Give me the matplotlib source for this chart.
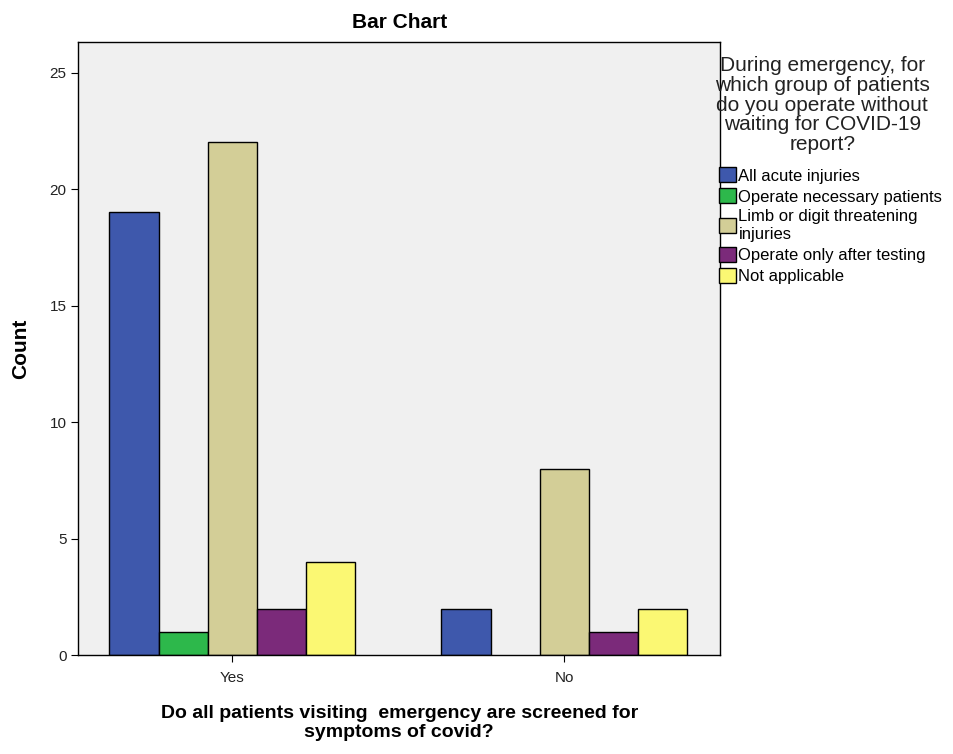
import numpy as np
import matplotlib.pyplot as plt
from matplotlib.patches import Patch

plt.rcParams['font.family'] = ['Liberation Sans', 'DejaVu Sans']

groups = ["Yes", "No"]
series = ["All acute injuries", "Operate necessary patients",
          "Limb or digit threatening\ninjuries", "Operate only after testing",
          "Not applicable"]
counts = {
    "All acute injuries": [19, 2],
    "Operate necessary patients": [1, 0],
    "Limb or digit threatening\ninjuries": [22, 8],
    "Operate only after testing": [2, 1],
    "Not applicable": [4, 2],
}
colors = ["#3e58ac", "#2db84b", "#d3ce97", "#7b2a7a", "#fbf873"]

fig = plt.figure(figsize=(9.54, 7.54), dpi=100)
ax = fig.add_axes([0.082, 0.131, 0.673, 0.813])
ax.set_facecolor("#f0f0f0")

x = np.arange(len(groups))
w = 0.148
for i, s in enumerate(series):
    vals = np.array(counts[s])
    pos = x + (i - 2) * w
    mask = vals > 0
    ax.bar(pos[mask], vals[mask], width=w, color=colors[i],
           edgecolor="black", linewidth=1)

ax.set_xlim(-0.464, 1.47)
ax.set_ylim(0, 26.3)
ax.set_yticks([0, 5, 10, 15, 20, 25])
ax.set_xticks(x)
ax.set_xticklabels(groups)
ax.tick_params(labelsize=11, length=5, color="black", labelcolor="#222222")
ax.tick_params(axis="x", pad=6)
for sp in ax.spines.values():
    sp.set_linewidth(1)
    sp.set_color("black")

ax.set_ylabel("Count", fontsize=15, fontweight="bold", labelpad=14)
ax.set_xlabel("Do all patients visiting  emergency are screened for\nsymptoms of covid?",
              fontsize=14, fontweight="bold", labelpad=15, linespacing=1.1)
ax.set_title("Bar Chart", fontsize=15, fontweight="bold", pad=10)

fig.text(0.862, 0.926, "During emergency, for\nwhich group of patients\ndo you operate without\nwaiting for COVID-19\nreport?",
         ha="center", va="top", fontsize=15, linespacing=1.06, color="#222222")

handles = [Patch(facecolor=c, edgecolor="black", linewidth=1) for c in colors]
fig.legend(handles, series, loc="upper left", bbox_to_anchor=(0.754, 0.778),
           frameon=False, fontsize=12, handlelength=1.0, handleheight=1.0,
           handletextpad=0.15, labelspacing=0.29, borderaxespad=0, borderpad=0)

fig.savefig("out.png", dpi=100)
